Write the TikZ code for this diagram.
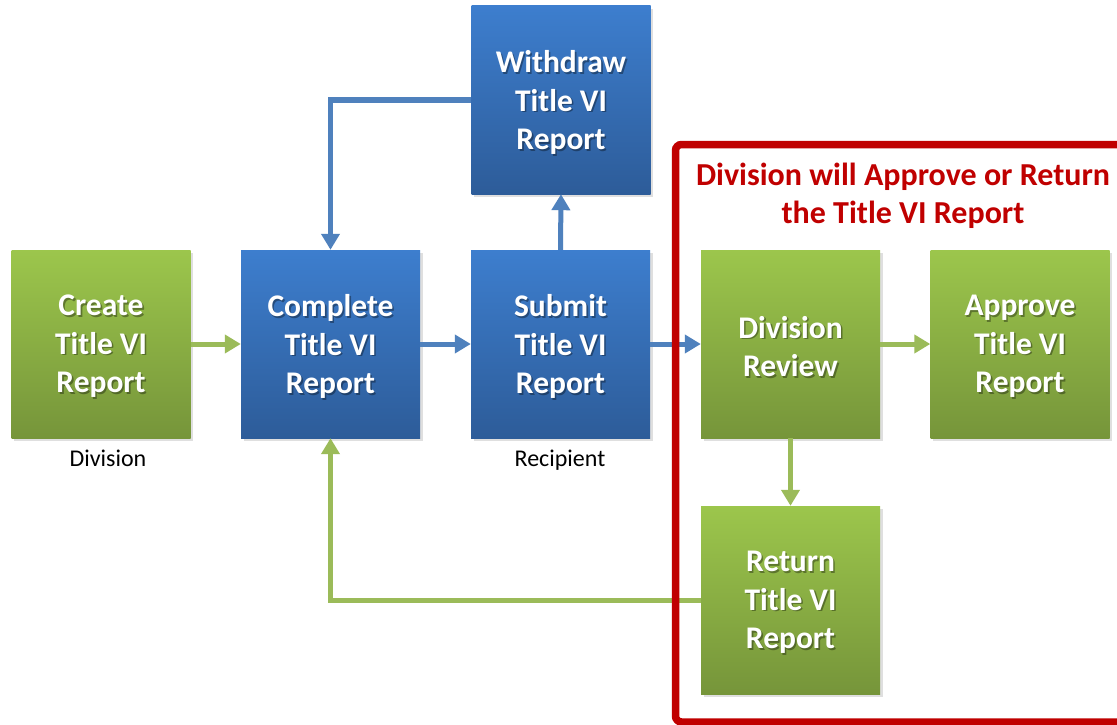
\documentclass[tikz,border=0pt]{standalone}
\usepackage{fontspec}
\setmainfont{Carlito}
\usetikzlibrary{arrows.meta,shadows}
\definecolor{gline}{HTML}{9BBB59}
\definecolor{bline}{HTML}{4F81BD}
\definecolor{gtop}{HTML}{9CC64C}
\definecolor{gbot}{HTML}{76953A}
\definecolor{btop}{HTML}{3D7ECE}
\definecolor{bbot}{HTML}{2D5C99}
\definecolor{redf}{HTML}{C00000}
\tikzset{
  flow/.style={minimum width=179pt,minimum height=188pt,inner sep=0pt,
    drop shadow={shadow xshift=2.5pt,shadow yshift=-3pt,opacity=0.25}},
  gbox/.style={flow,top color=gtop,bottom color=gbot},
  bbox/.style={flow,top color=btop,bottom color=bbot},
  boxtext/.style={text=white,align=center,inner sep=0pt,font=\fontsize{31.5}{38.5}\selectfont\bfseries},
  txtshadow/.style={boxtext,text=black,text opacity=0.35},
  conn/.style={line width=5pt,-{Triangle[width=18pt,length=16pt]}},
  garrow/.style={conn,draw=gline},
  barrow/.style={conn,draw=bline},
  lbl/.style={font=\fontsize{24}{28}\selectfont,text=black,inner sep=0pt,anchor=base},
}
\newcommand\flowbox[4]{%
  \node[#2] (#1) at (#3) {};
  \node[txtshadow] (#1-s) at ([shift={(1.6,4.1)}]#1.center) {#4};
  \node[boxtext] (#1-t) at ([shift={(0,2.5)}]#1.center) {#4};
}
\begin{document}
\begin{tikzpicture}[x=1pt,y=-1pt]
\clip (0,0) rectangle (1117,725);
\fill[white] (0,0) rectangle (1117,725);
\flowbox{create}{gbox}{101,344}{Create\\Title VI\\Report}
\flowbox{complete}{bbox}{330.5,344}{Complete\\Title VI\\Report}
\flowbox{submit}{bbox}{560.5,344}{Submit\\Title VI\\Report}
\flowbox{withdraw}{bbox}{561,100}{Withdraw\\Title VI\\Report}
\flowbox{review}{gbox}{790.5,344}{Division\\Review}
\flowbox{approve}{gbox}{1020,344}{Approve\\Title VI\\Report}
\flowbox{return}{gbox}{790.5,600}{Return\\Title VI\\Report}
\node[lbl] (lbldiv) at (108,466.5) {Division};
\node[lbl] (lblrec) at (560,466.5) {Recipient};
\draw[garrow] (create.east) -- (complete.west);
\draw[barrow] (complete.east) -- (submit.west);
\draw[barrow] (submit.east) -- (review.west);
\draw[barrow] (submit.north) -- (withdraw.south);
\draw[barrow] (withdraw.west) -| (complete.north);
\draw[garrow] (review.east) -- (approve.west);
\draw[garrow] (review.south) -- (return.north);
\draw[garrow] (return.west) -| (complete.south);
\draw[redf,line width=7.5pt,rounded corners=6pt] (675.5,144.5) rectangle (1140,722);
\node[text=redf,align=center,inner sep=0pt,font=\fontsize{32}{38}\selectfont\bfseries] (title) at (903,195.5) {Division will Approve or Return\\the Title VI Report};
\end{tikzpicture}
\end{document}
